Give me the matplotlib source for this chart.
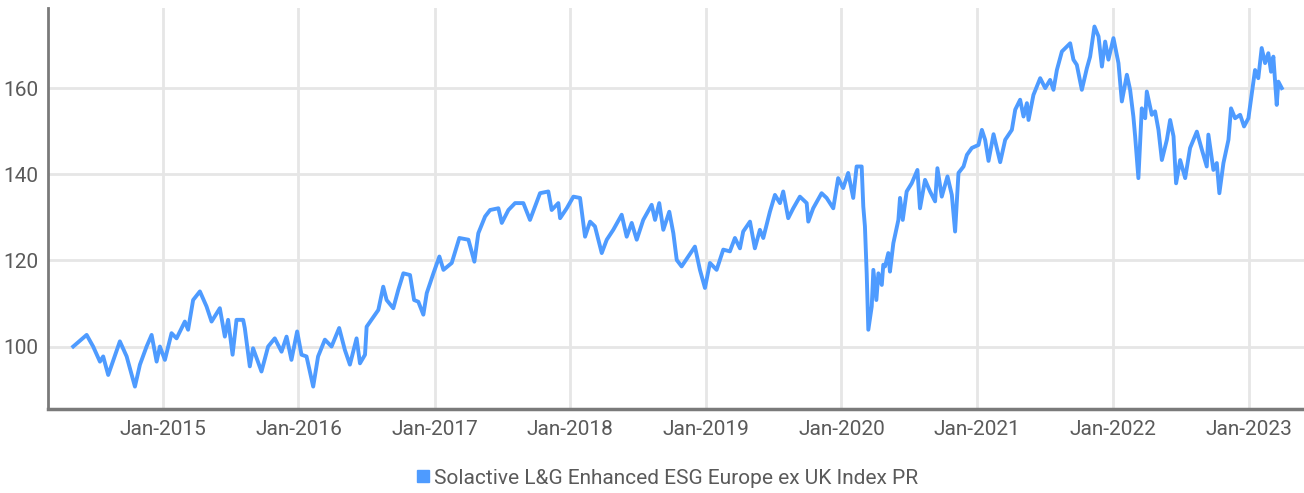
import numpy as np
import pandas as pd
import matplotlib
matplotlib.use("Agg")
import matplotlib.pyplot as plt
import matplotlib.dates as mdates
from matplotlib.lines import Line2D

plt.rcParams["font.family"] = ["Roboto", "DejaVu Sans"]

# index level, keyed by decimal year
years = [
    2014.339, 2014.438, 2014.486, 2014.536, 2014.560, 2014.597, 2014.683, 2014.733,
    2014.794, 2014.831, 2014.880, 2014.917, 2014.954, 2014.978, 2015.015, 2015.064,
    2015.101, 2015.162, 2015.186, 2015.223, 2015.273, 2015.322, 2015.359, 2015.420,
    2015.457, 2015.481, 2015.514, 2015.543, 2015.592, 2015.604, 2015.641, 2015.665,
    2015.727, 2015.776, 2015.825, 2015.875, 2015.912, 2015.948, 2015.990, 2016.022,
    2016.059, 2016.108, 2016.144, 2016.194, 2016.243, 2016.299, 2016.341, 2016.378,
    2016.427, 2016.452, 2016.489, 2016.501, 2016.587, 2016.623, 2016.648, 2016.697,
    2016.734, 2016.771, 2016.820, 2016.850, 2016.881, 2016.918, 2016.943, 2016.992,
    2017.036, 2017.066, 2017.127, 2017.183, 2017.250, 2017.294, 2017.323, 2017.373,
    2017.410, 2017.471, 2017.496, 2017.545, 2017.594, 2017.655, 2017.704, 2017.778,
    2017.839, 2017.864, 2017.913, 2017.926, 2017.975, 2018.024, 2018.073, 2018.110,
    2018.147, 2018.183, 2018.233, 2018.270, 2018.318, 2018.380, 2018.417, 2018.454,
    2018.491, 2018.539, 2018.601, 2018.626, 2018.657, 2018.687, 2018.731, 2018.761,
    2018.786, 2018.822, 2018.871, 2018.920, 2018.957, 2018.994, 2019.031, 2019.080,
    2019.129, 2019.178, 2019.215, 2019.252, 2019.276, 2019.326, 2019.362, 2019.399,
    2019.424, 2019.473, 2019.510, 2019.547, 2019.571, 2019.608, 2019.645, 2019.694,
    2019.744, 2019.756, 2019.792, 2019.854, 2019.891, 2019.940, 2019.976, 2020.013,
    2020.050, 2020.087, 2020.112, 2020.149, 2020.161, 2020.173, 2020.186, 2020.198,
    2020.223, 2020.235, 2020.257, 2020.272, 2020.297, 2020.308, 2020.321, 2020.345,
    2020.357, 2020.382, 2020.419, 2020.431, 2020.451, 2020.480, 2020.517, 2020.559,
    2020.578, 2020.615, 2020.652, 2020.689, 2020.706, 2020.738, 2020.780, 2020.812,
    2020.836, 2020.861, 2020.898, 2020.923, 2020.959, 2021.008, 2021.033, 2021.057,
    2021.082, 2021.119, 2021.168, 2021.205, 2021.254, 2021.279, 2021.315, 2021.340,
    2021.365, 2021.377, 2021.413, 2021.463, 2021.500, 2021.536, 2021.561, 2021.586,
    2021.623, 2021.684, 2021.708, 2021.733, 2021.770, 2021.807, 2021.831, 2021.863,
    2021.893, 2021.918, 2021.942, 2021.966, 2022.003, 2022.040, 2022.065, 2022.102,
    2022.126, 2022.150, 2022.163, 2022.187, 2022.212, 2022.237, 2022.249, 2022.286,
    2022.310, 2022.335, 2022.360, 2022.397, 2022.421, 2022.446, 2022.465, 2022.495,
    2022.532, 2022.568, 2022.618, 2022.655, 2022.691, 2022.703, 2022.740, 2022.765,
    2022.784, 2022.814, 2022.851, 2022.870, 2022.900, 2022.937, 2022.966, 2022.998,
    2023.023, 2023.047, 2023.071, 2023.096, 2023.121, 2023.145, 2023.165, 2023.182,
    2023.207, 2023.219, 2023.244,
]
level = [
    100.0, 102.7, 100.0, 96.5, 97.7, 93.4, 101.2, 97.7,
    90.7, 95.8, 100.0, 102.7, 96.5, 100.0, 96.9, 103.1,
    101.9, 105.8, 103.9, 110.8, 112.8, 109.3, 105.8, 108.9,
    102.3, 106.2, 98.1, 106.2, 106.2, 104.3, 95.4, 99.6,
    94.2, 100.0, 101.9, 98.8, 102.3, 96.9, 103.5, 98.1,
    97.7, 90.7, 97.7, 101.6, 100.0, 104.3, 99.2, 95.8,
    101.9, 96.1, 98.1, 104.6, 108.5, 113.9, 110.8, 108.9,
    113.2, 117.0, 116.6, 110.8, 110.4, 107.4, 112.4, 117.0,
    120.9, 117.8, 119.4, 125.2, 124.8, 119.7, 126.3, 130.2,
    131.7, 132.1, 128.7, 131.7, 133.3, 133.3, 129.4, 135.6,
    136.0, 131.7, 133.3, 129.8, 132.1, 134.8, 134.5, 125.5,
    129.0, 127.9, 121.7, 124.8, 127.1, 130.6, 125.5, 128.7,
    124.8, 129.4, 132.9, 129.4, 133.3, 127.1, 131.3, 126.3,
    120.1, 118.6, 120.9, 123.2, 117.8, 113.6, 119.4, 117.8,
    122.5, 122.1, 125.2, 122.8, 126.7, 129.0, 122.8, 127.1,
    125.2, 131.3, 135.2, 133.3, 136.0, 129.8, 132.1, 134.8,
    133.3, 129.0, 132.1, 135.6, 134.5, 132.1, 139.1, 136.8,
    140.3, 134.5, 141.8, 141.8, 132.5, 127.9, 117.0, 103.9,
    109.3, 117.8, 110.8, 117.0, 114.3, 119.0, 118.6, 121.7,
    117.4, 124.0, 129.4, 134.5, 129.4, 136.0, 137.9, 141.0,
    132.1, 138.7, 136.0, 133.7, 141.4, 134.8, 139.5, 135.2,
    126.7, 140.3, 141.8, 144.5, 146.1, 146.8, 150.3, 148.0,
    143.1, 149.3, 142.8, 148.0, 150.3, 155.0, 157.3, 153.4,
    156.5, 152.6, 158.4, 162.3, 160.0, 161.9, 159.6, 164.2,
    168.5, 170.4, 166.6, 165.4, 159.6, 164.6, 167.3, 174.3,
    172.0, 165.0, 170.8, 166.6, 171.6, 165.8, 156.9, 163.1,
    159.6, 153.4, 148.8, 139.1, 155.3, 153.0, 159.2, 153.8,
    154.6, 150.3, 143.3, 148.0, 152.6, 148.8, 137.9, 143.3,
    139.1, 146.1, 149.9, 145.7, 141.8, 149.2, 141.0, 142.6,
    135.6, 142.6, 148.0, 155.3, 153.0, 153.8, 151.1, 153.0,
    158.8, 164.2, 162.3, 169.3, 165.8, 168.1, 163.8, 167.3,
    156.1, 161.5, 160.0,
]
series_name = "Solactive L&G Enhanced ESG Europe ex UK Index PR"
y_ticks = [100, 120, 140, 160]

BLUE = "#4e9bff"
GRID = "#e6e6e6"
TXT = "#5a5a5a"


def to_date(y):
    yr = int(np.floor(y))
    start = pd.Timestamp(year=yr, month=1, day=1)
    end = pd.Timestamp(year=yr + 1, month=1, day=1)
    return start + (end - start) * (y - yr)


dates = [to_date(y) for y in years]

fig = plt.figure(figsize=(13.04, 4.93), dpi=100)
ax = fig.add_axes([0.0368, 0.1704, 0.9632, 0.8134])

ax.plot(dates, level, color=BLUE, lw=2.8, solid_joinstyle="round")

ax.set_xlim(to_date(2014.153), to_date(2023.408))
ax.set_ylim(85.5, 178.6)
ax.set_yticks(y_ticks)
ax.xaxis.set_major_locator(mdates.YearLocator(month=1, day=1))
ax.xaxis.set_major_formatter(mdates.DateFormatter("%b-%Y"))
ax.set_xticks(ax.get_xticks()[1:])  # first visible is Jan-2015

ax.grid(True, color=GRID, lw=2)
ax.set_axisbelow(True)
for s in ["top", "right"]:
    ax.spines[s].set_visible(False)
ax.spines["left"].set_color("#7a7a7a")
ax.spines["left"].set_linewidth(2)
ax.spines["bottom"].set_color("#7a7a7a")
ax.spines["bottom"].set_linewidth(2.5)
ax.tick_params(length=0, labelsize=15, colors=TXT, pad=8)
ax.tick_params(axis="y", pad=7)

handle = Line2D([], [], ls="none", marker="s", ms=8, color=BLUE)
fig.legend([handle], [series_name], loc="center", bbox_to_anchor=(0.511, 0.03),
           frameon=False, fontsize=15, labelcolor=TXT, handletextpad=0.1,
           handlelength=0.8)

fig.savefig("out.png", dpi=100)
